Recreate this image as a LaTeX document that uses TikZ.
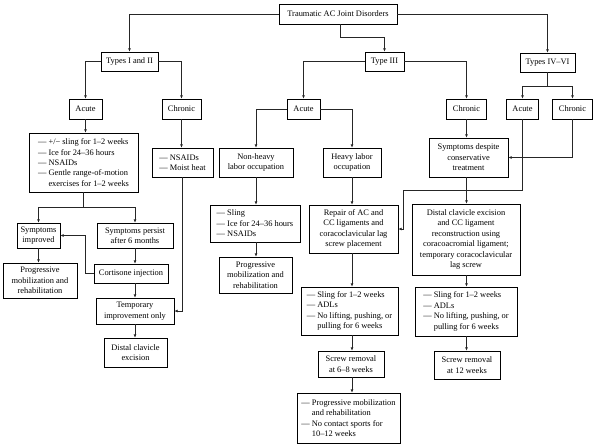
\documentclass[tikz,border=0pt]{standalone}
\usepackage{fontspec}
\setmainfont{Liberation Serif}
\usetikzlibrary{arrows.meta}
\begin{document}
\begin{tikzpicture}[x=1pt,y=-1pt,
  box/.style={draw=black, line width=0.7pt, inner sep=0pt, align=center, fill=white,
    font=\fontsize{8.4}{10.4}\selectfont},
  lbox/.style={box, align=left},
  sz/.style 2 args={minimum width=#1pt, minimum height=#2pt},
  ln/.style={draw=black!85, line width=0.6pt},
  arr/.style={ln, -{Latex[length=3.2pt,width=2.8pt]}}]
\useasboundingbox (0,0) rectangle (595,447);
% level 0-2
\node[box, sz={118}{20}] (top) at (338,14) {Traumatic AC Joint Disorders};
\node[box, sz={57}{19}] (t12) at (129.5,61.5) {Types I and II};
\node[box, sz={39}{19}] (t3) at (384.5,61.5) {Type III};
\node[box, sz={55}{19}] (t46) at (547.5,62.5) {Types IV–VI};
% level 3
\node[box, sz={33}{20}] (a12) at (85.5,109) {Acute};
\node[box, sz={39}{20}] (c12) at (181.5,109) {Chronic};
\node[box, sz={33}{20}] (a3) at (303.5,109) {Acute};
\node[box, sz={40}{20}] (c3) at (466.5,109) {Chronic};
\node[box, sz={32}{20}] (a46) at (522.5,109) {Acute};
\node[box, sz={40}{20}] (c46) at (572.5,109) {Chronic};
% level 4
\node[lbox, sz={109}{59}] (list12) at (83.5,162.5) {— +/− sling for 1–2 weeks\\— Ice for 24–36 hours\\— NSAIDs\\— Gentle range-of-motion\\\phantom{— }exercises for 1–2 weeks};
\node[lbox, sz={61}{29}] (nsaid) at (182.5,162.5) {— NSAIDs\\— Moist heat};
\node[box, sz={74}{29}] (nonheavy) at (256,162.5) {Non-heavy\\labor occupation};
\node[box, sz={58}{29}] (heavy) at (352,162.5) {Heavy labor\\occupation};
\node[box, sz={79}{39}] (despite) at (468.5,157.5) {Symptoms despite\\conservative\\treatment};
% level 5
\node[box, sz={43}{25}] (improved) at (38.5,235.5) {Symptoms\\improved};
\node[box, sz={76}{25}] (persist) at (135,235.5) {Symptoms persist\\after 6 months};
\node[lbox, sz={90}{37}] (sling3) at (255,223.5) {— Sling\\— Ice for 24–36 hours\\— NSAIDs};
\node[box, sz={89}{48}] (repair) at (353.5,229) {Repair of AC and\\CC ligaments and\\coracoclavicular lag\\screw placement};
\node[box, sz={108}{71}] (distal46) at (466,239.5) {Distal clavicle excision\\and CC ligament\\reconstruction using\\coracoacromial ligament;\\temporary coracoclavicular\\lag screw};
% level 6
\node[box, sz={74}{35}] (prog12) at (40,280.5) {Progressive\\mobilization and\\rehabilitation};
\node[box, sz={74}{19}] (cortisone) at (131,273.5) {Cortisone injection};
\node[box, sz={73}{36}] (prog3) at (255.5,275) {Progressive\\mobilization and\\rehabilitation};
\node[box, sz={78}{26}] (temp) at (135,311) {Temporary\\improvement only};
\node[lbox, sz={97}{48}] (sling3b) at (349.5,311) {— Sling for 1–2 weeks\\— ADLs\\— No lifting, pushing, or\\\phantom{— }pulling for 6 weeks};
\node[lbox, sz={102}{49}] (sling46) at (466,311.5) {— Sling for 1–2 weeks\\— ADLs\\— No lifting, pushing, or\\\phantom{— }pulling for 6 weeks};
\node[box, sz={63}{29}] (distal12) at (135.5,352.5) {Distal clavicle\\excision};
\node[box, sz={66}{26}] (screw3) at (351,364) {Screw removal\\at 6–8 weeks};
\node[box, sz={66}{28}] (screw46) at (467,365) {Screw removal\\at 12 weeks};
\node[lbox, sz={103}{50}] (final) at (348.5,418) {— Progressive mobilization\\\phantom{— }and rehabilitation\\— No contact sports for\\\phantom{— }10–12 weeks};
% connectors from top
\draw[arr] (top.west) -| (t12.north);
\draw[arr] (top.east) -| (t46.north);
\draw[arr] ([xshift=2pt]top.south) -- ++(0,13) -| (t3.north);
% types I and II
\draw[arr] (t12.west) -| (a12.north);
\draw[arr] (t12.east) -| (c12.north);
\draw[arr] (a12.south) -- (a12.south |- list12.north);
\draw[arr] (c12.south) -- (c12.south |- nsaid.north);
\draw[ln] (list12.south) -- ++(0,15) coordinate (j12);
\draw[arr] (j12) -| (improved.north);
\draw[arr] (j12) -| (persist.north);
\draw[arr] (improved.south) -- (improved.south |- prog12.north);
\draw[arr] (persist.south) -- (persist.south |- cortisone.north);
\draw[arr] (cortisone.west) -- ++(-8,0) |- (improved.east);
\draw[arr] (persist.south |- cortisone.south) -- (persist.south |- temp.north);
\draw[arr] (nsaid.south) |- (temp.east);
\draw[arr] (temp.south) -- (temp.south |- distal12.north);
% type III
\draw[arr] (t3.west) -| (a3.north);
\draw[arr] (t3.east) -| (c3.north);
\draw[arr] (a3.west) -| (nonheavy.north);
\draw[arr] (a3.east) -| (heavy.north);
\draw[arr] (nonheavy.south) -- (nonheavy.south |- sling3.north);
\draw[arr] (nonheavy.south |- sling3.south) -- (nonheavy.south |- prog3.north);
\draw[arr] (heavy.south) -- (heavy.south |- repair.north);
\draw[arr] (heavy.south |- repair.south) -- (heavy.south |- sling3b.north);
\draw[arr] (heavy.south |- sling3b.south) -- (heavy.south |- screw3.north);
\draw[arr] (heavy.south |- screw3.south) -- (heavy.south |- final.north);
\draw[arr] (c3.south) -- (c3.south |- despite.north);
\draw[arr] (c3.south |- despite.south) -- (c3.south |- distal46.north);
\draw[arr] (c3.south |- distal46.south) -- (c3.south |- sling46.north);
\draw[arr] (c3.south |- sling46.south) -- (c3.south |- screw46.north);
% types IV-VI
\draw[ln] (t46.south) -- ++(0,13.5) coordinate (j46);
\draw[arr] (j46) -| (a46.north);
\draw[arr] (j46) -| (c46.north);
\draw[arr] (c46.south) |- (despite.east);
\coordinate (k46) at (403,190);
\draw[arr] (a46.south) |- (k46) |- (repair.east);
\end{tikzpicture}
\end{document}
